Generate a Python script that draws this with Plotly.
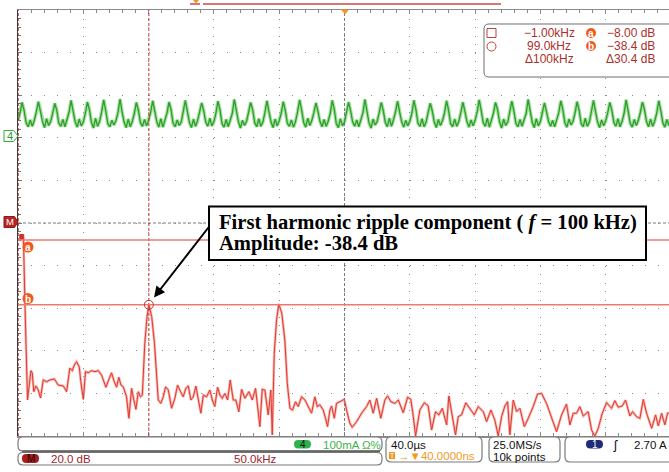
import numpy as np
import plotly.graph_objects as go

# ---------------- channel M : FFT of channel 4 ----------------
DB_PER_DIV = 20.0
KHZ_PER_DIV = 50.0
FREQ_START_KHZ = -1.2

FREQ_KHZ = [
    -1.0, 3.0, 4.2, 6.1, 8.7, 9.7, 10.9, 12.5, 14.3, 16.1, 18.1, 20.7, 23.2, 26.6, 29.6,
    33.5, 36.0, 38.5, 40.4, 41.9, 43.6, 45.7, 46.9, 48.8, 50.5, 52.6, 55.1, 57.7, 60.3,
    62.8, 66.1, 68.4, 70.4, 72.5, 74.3, 76.0, 77.6, 79.4, 81.9, 83.7, 85.8, 87.5, 89.1,
    90.9, 92.6, 94.0, 95.9, 97.6, 99.0, 101.2, 103.3, 106.2, 108.2, 110.0, 111.8, 113.9,
    116.4, 118.9, 121.0, 123.3, 125.3, 127.3, 129.2, 131.2, 133.0, 135.0, 136.8, 138.8,
    140.7, 143.2, 145.7, 147.6, 149.5, 151.6, 153.4, 155.2, 157.2, 159.3, 161.3, 163.6,
    165.6, 167.9, 170.0, 172.5, 175.6, 178.2, 180.7, 182.8, 184.0, 185.8, 187.8, 190.4,
    192.4, 193.5, 195.0, 196.8, 198.5, 200.8, 203.1, 205.0, 207.0, 209.0, 211.3, 213.4,
    215.9, 218.5, 221.1, 223.6, 226.1, 228.0, 229.9, 232.5, 234.3, 235.8, 237.6, 238.9,
    241.0, 242.7, 245.3, 248.6, 250.4, 252.9, 254.7, 258.0, 261.9, 265.7, 268.2, 270.8,
    273.4, 276.6, 279.7, 281.8, 284.3, 287.4, 290.0, 293.8, 297.1, 299.6, 301.5, 303.2,
    306.5, 309.9, 312.9, 315.5, 318.5, 321.1, 323.7, 327.0, 328.7, 331.3, 333.8, 335.9,
    338.4, 341.7, 345.6, 348.2, 351.2, 355.1, 357.6, 360.9, 363.9, 366.5, 369.1, 371.6,
    373.7, 375.4, 378.0, 380.6, 383.1, 386.5, 389.5, 393.3, 396.6, 399.7, 403.5, 407.3,
    411.2, 415.0, 418.8, 421.4, 424.0, 426.5, 429.0, 431.6, 435.4, 438.0, 440.5, 443.1,
    446.2, 449.5, 453.3, 455.8, 458.4, 461.5, 464.0, 467.3, 469.4, 472.4, 475.0, 477.6,
    480.1, 484.0, 487.0, 489.1, 491.6, 494.1, 496.2, 498.0,
]
LEVEL_DB = [
    -8.0, -7.6, -40.0, -83.1, -69.3, -70.4, -79.2, -76.5, -78.4, -82.2, -73.7, -74.5, -73.7, -73.2, -76.1,
    -76.5, -79.2, -68.1, -69.3, -66.7, -65.1, -67.5, -74.5, -82.8, -69.8, -70.3, -69.3, -69.8, -69.3,
    -71.4, -77.1, -73.7, -70.3, -74.5, -77.1, -72.4, -76.1, -76.9, -81.6, -91.7, -77.6, -83.1, -87.5,
    -79.2, -81.6, -80.8, -56.5, -44.0, -38.4, -44.0, -56.5, -83.1, -84.7, -81.6, -76.9, -78.4,
    -87.0, -82.3, -76.1, -79.2, -81.6, -77.6, -76.5, -83.1, -81.6, -76.5, -83.1, -89.3,
    -80.8, -81.6, -78.4, -83.1, -86.2, -77.1, -80.8, -82.3, -80.0, -83.1, -73.7, -83.1,
    -83.1, -88.6, -78.1, -82.3, -79.2, -83.1, -77.6, -87.8, -95.6, -78.1, -78.4, -90.1,
    -78.4, -99.5, -61.2, -45.5, -38.0, -42.4, -54.9, -75.3, -87.0, -87.8, -83.9, -86.2,
    -81.6, -83.1, -85.9, -89.3, -81.6, -86.2, -85.4, -87.8, -91.7, -95.6, -87.8, -85.9,
    -91.7, -84.7, -83.9, -82.8, -87.8, -94.0, -95.9, -93.3, -89.3, -86.2, -83.1, -89.3,
    -82.3, -91.7, -83.1, -81.2, -83.9, -84.7, -83.1, -89.1, -81.8, -82.8, -90.9, -100.0,
    -87.8, -84.4, -85.9, -97.2, -88.6, -90.1, -87.0, -94.8, -81.2, -90.1, -99.5, -90.9,
    -90.1, -84.4, -87.8, -90.1, -86.2, -88.6, -93.3, -87.8, -92.5, -100.0, -90.9, -85.9,
    -83.9, -99.5, -83.1, -88.6, -87.0, -95.6, -91.7, -86.2, -80.3, -80.0, -84.7, -91.7,
    -98.0, -90.1, -85.0, -94.8, -89.3, -89.3, -86.2, -90.6, -88.6, -97.2, -100.0, -96.4,
    -89.3, -84.4, -87.0, -83.4, -86.5, -85.9, -83.1, -90.6, -88.6, -90.9, -91.7, -82.8,
    -89.3, -96.4, -90.1, -95.3, -89.3, -94.8, -89.3, -89.1,
]

# ---------------- channel 4 : ripple current ----------------
MA_PER_DIV = 100.0
US_PER_DIV = 40.0
CH4_OFFSET_DIV = 2.04          # ground marker above screen centre
CH4_T0_US = -200.0
CH4_DT_US = 1.25
CH4_MA = [
    36, 54,
    79, 60, 31, 22, 38, 23, 36, 55,
    81, 58, 33, 20, 41, 25, 34, 53,
    77, 61, 30, 23, 39, 22, 37, 56,
    84, 59, 34, 21, 40, 24, 33, 54,
    80, 62, 32, 19, 42, 23, 35, 57,
    85, 60, 29, 22, 37, 26, 36, 55,
    87, 57, 33, 20, 40, 22, 34, 53,
    79, 61, 31, 23, 39, 24, 37, 56,
    83, 59, 34, 21, 41, 21, 35, 54,
    80, 62, 30, 22, 38, 25, 33, 55,
    84, 58, 32, 20, 40, 23, 36, 57,
    78, 60, 33, 23, 42, 24, 34, 54,
    82, 61, 29, 21, 39, 22, 37, 53,
    86, 59, 34, 19, 37, 25, 35, 56,
    79, 62, 31, 22, 41, 23, 33, 55,
    83, 57, 33, 20, 40, 24, 36, 54,
    81, 60, 30, 23, 38, 21, 34, 57,
    85, 61, 32, 21, 42, 25, 37, 55,
    78, 58, 34, 22, 39, 23, 35, 53,
    84, 62, 29, 20, 41, 24, 33, 56,
    80, 59, 33, 23, 38, 22, 36, 54,
    86, 61, 31, 19, 40, 26, 34, 55,
    79, 60, 32, 22, 42, 23, 37, 57,
    82, 57, 34, 21, 37, 24, 35, 53,
    84, 62, 30, 23, 41, 22, 33, 56,
    77, 59, 33, 20, 39, 25, 36, 54,
    83, 61, 29, 22, 40, 23, 34, 55,
    80, 58, 34, 21, 38, 24, 37, 57,
    85, 60, 31, 23, 42, 21, 35, 54,
    79, 62, 33, 19, 40, 25, 33, 55,
    82, 59, 30, 22, 39, 23, 36, 53,
    86, 61, 32, 20, 41, 24, 34, 56,
    78, 57, 34, 23, 37, 22, 37, 55,
    83, 62, 31, 21, 40, 26, 35, 54,
    81, 60, 29, 22, 42, 23, 33, 57,
    84, 58, 33, 20, 38, 24, 36, 55,
    79, 61, 32, 23, 41, 22, 34, 53,
    85, 59, 30, 21, 39, 25, 37, 56,
    80, 62, 34, 22, 40, 23, 35, 54,
    83, 60, 31, 21, 39, 24,
]

# ---------------- cursors ----------------
CURSOR_NAMES = ["a", "b"]
CURSOR_FREQ_KHZ = [-1.0, 99.0]
CURSOR_DB = [-8.0, -38.4]

# ---------------- acquisition settings ----------------
SAMPLE_RATE = "25.0MS/s"
RECORD_LEN = "10k points"
TRIG_DELAY = "40.0000ns"
TRIG_LEVEL = "2.70 A"

# ---------------- screen geometry ----------------
W, H = 669, 472
ML, MT, MB = 18, 10, 36
PW, PH = W - ML, H - MT - MB
DIV_X_PX, DIV_Y_PX = 65.3, 42.6
NX = PW / DIV_X_PX                  # visible horizontal divisions
NY = 10


def px(x):
    return (x - ML) / PW


def py(y):
    return (H - MB - y) / PH


def rrect(x0, y0, x1, y1, r):
    pts = [("M", x0 + r, y0), ("L", x1 - r, y0), ("Q", x1, y0, x1, y0 + r),
           ("L", x1, y1 - r), ("Q", x1, y1, x1 - r, y1), ("L", x0 + r, y1),
           ("Q", x0, y1, x0, y1 - r), ("L", x0, y0 + r), ("Q", x0, y0, x0 + r, y0)]
    out = []
    for p in pts:
        cmd, vals = p[0], p[1:]
        coords = []
        for i in range(0, len(vals), 2):
            coords.append(f"{px(vals[i]):.5f},{py(vals[i + 1]):.5f}")
        out.append(cmd + " ".join(coords))
    return " ".join(out) + " Z"


def poly(points):
    return "M" + " L".join(f"{px(a):.5f},{py(b):.5f}" for a, b in points) + " Z"


def sig3(v):
    s = f"{v:#.3g}".rstrip(".")
    return s.replace("-", "\u2212")


fig = go.Figure()

# channel 4 time trace
t_us = CH4_T0_US + CH4_DT_US * np.arange(len(CH4_MA))
fig.add_trace(go.Scatter(x=t_us, y=CH4_MA, xaxis="x3", yaxis="y3", mode="lines",
                         line=dict(color="#a6dfa0", width=3.6), hoverinfo="skip"))
fig.add_trace(go.Scatter(x=t_us, y=CH4_MA, xaxis="x3", yaxis="y3", mode="lines",
                         line=dict(color="#2a9f2a", width=1.3), hoverinfo="skip"))

# FFT trace
fig.add_trace(go.Scatter(x=FREQ_KHZ, y=LEVEL_DB, xaxis="x2", yaxis="y2", mode="lines",
                         line=dict(color="#f6b4ac", width=2.6), hoverinfo="skip"))
fig.add_trace(go.Scatter(x=FREQ_KHZ, y=LEVEL_DB, xaxis="x2", yaxis="y2", mode="lines",
                         line=dict(color="#e23a33", width=1.0), hoverinfo="skip"))

GRID = "#8c8c8c"
hidden = dict(visible=False, showgrid=False, zeroline=False)

fig.update_layout(
    width=W, height=H,
    margin=dict(l=ML, r=0, t=MT, b=MB, pad=0),
    paper_bgcolor="white", plot_bgcolor="white",
    showlegend=False, hovermode=False,
    xaxis=dict(range=[0, NX], dtick=1, tick0=0, showgrid=True, gridcolor=GRID, gridwidth=1,
               griddash="1px,7.52px", zeroline=False, showticklabels=False,
               showline=True, linecolor="#8a8a8a", linewidth=1.5, mirror="ticks",
               ticks="inside", ticklen=4, tickcolor="#8a8a8a",
               minor=dict(dtick=0.2, ticks="inside", ticklen=3, tickcolor="#8a8a8a", showgrid=False)),
    yaxis=dict(range=[-NY / 2, NY / 2], dtick=1, tick0=0, showgrid=True, gridcolor=GRID, gridwidth=1,
               griddash="1px,12.06px", zeroline=False, showticklabels=False,
               showline=True, linecolor="#3a3a3a", linewidth=1.5, mirror=False,
               ticks="inside", ticklen=4, tickcolor="#777",
               minor=dict(dtick=0.2, ticks="inside", ticklen=3, tickcolor="#777", showgrid=False)),
    # centre-line tick rulers
    xaxis4=dict(overlaying="x", anchor="free", position=0.5 + 3 / PH, range=[0, NX],
                dtick=0.2, tick0=0, ticks="outside", ticklen=6, tickcolor="#666",
                showline=False, showgrid=False, zeroline=False, showticklabels=False),
    yaxis4=dict(overlaying="y", anchor="free", position=(5 * DIV_X_PX + 3) / PW,
                range=[-NY / 2, NY / 2], dtick=0.2, tick0=0, ticks="outside", ticklen=6,
                tickcolor="#666", showline=False, showgrid=False, zeroline=False,
                showticklabels=False),
    # FFT scales
    xaxis2=dict(overlaying="x", range=[FREQ_START_KHZ, FREQ_START_KHZ + NX * KHZ_PER_DIV], **hidden),
    yaxis2=dict(overlaying="y", range=[-NY / 2 * DB_PER_DIV, NY / 2 * DB_PER_DIV], **hidden),
    # time-domain scales
    xaxis3=dict(overlaying="x", range=[-5 * US_PER_DIV, -5 * US_PER_DIV + NX * US_PER_DIV], **hidden),
    yaxis3=dict(overlaying="y", range=[(-5 - CH4_OFFSET_DIV) * MA_PER_DIV,
                                       (5 - CH4_OFFSET_DIV) * MA_PER_DIV], **hidden),
)

shapes = []
ann = []


def label(x, y, text, color="#111", size=11.5, anchor="left", family="Liberation Sans, Arial"):
    ann.append(dict(xref="paper", yref="paper", x=px(x), y=py(y), text=text, showarrow=False,
                    font=dict(family=family, size=size, color=color),
                    xanchor=anchor, yanchor="middle"))


# centre cross lines
shapes.append(dict(type="line", xref="x", yref="y", x0=0, x1=NX, y0=0, y1=0,
                   line=dict(color="#7a7a7a", width=1, dash="3px,2px")))
shapes.append(dict(type="line", xref="x", yref="y", x0=5, x1=5, y0=-NY / 2, y1=NY / 2,
                   line=dict(color="#7a7a7a", width=1, dash="3px,2px")))

# cursors
CUR_RED = "#c7332f"
for f in CURSOR_FREQ_KHZ:
    shapes.append(dict(type="line", xref="x2", yref="paper", x0=f, x1=f, y0=0, y1=1,
                       line=dict(color=CUR_RED, width=1, dash="3px,2px")))
for d in CURSOR_DB:
    shapes.append(dict(type="line", xref="paper", yref="y2", x0=0, x1=1, y0=d, y1=d,
                       line=dict(color="#eb7a74", width=1.5)))
shapes.append(dict(type="rect", xref="x2", yref="y2", xsizemode="pixel", ysizemode="pixel",
                   xanchor=CURSOR_FREQ_KHZ[0], yanchor=CURSOR_DB[0], x0=1.5, x1=5.5, y0=1.5, y1=5.5,
                   fillcolor=CUR_RED, line=dict(color=CUR_RED, width=1)))
shapes.append(dict(type="circle", xref="x2", yref="y2", xsizemode="pixel", ysizemode="pixel",
                   xanchor=CURSOR_FREQ_KHZ[1], yanchor=CURSOR_DB[1], x0=-4.5, x1=4.5, y0=-4.5, y1=4.5,
                   line=dict(color=CUR_RED, width=1)))

ORANGE = "#f05a1e"
for name, (cx, cy) in zip(CURSOR_NAMES, [(28, 247), (28, 298.5)]):
    shapes.append(dict(type="circle", xref="paper", yref="paper", x0=px(cx - 5.5), x1=px(cx + 5.5),
                       y0=py(cy + 5.5), y1=py(cy - 5.5), fillcolor=ORANGE, line=dict(width=0)))
    label(cx, cy + 0.5, f"<b>{name}</b>", "white", 10, "center")

# channel tags on the left
shapes.append(dict(type="path", xref="paper", yref="paper",
                   path=poly([(4, 130.5), (13.5, 130.5), (18, 136), (13.5, 141.5), (4, 141.5)]),
                   fillcolor="white", line=dict(color="#3aa63a", width=1)))
label(10, 136, "4", "#2f9a2f", 11, "center")
shapes.append(dict(type="path", xref="paper", yref="paper",
                   path=poly([(4, 216.5), (14.5, 216.5), (18, 222), (14.5, 227.5), (4, 227.5)]),
                   fillcolor="#b82525", line=dict(color="#8a1a1a", width=1)))
label(10, 222, "M", "white", 9.5, "center")

# record bar and trigger markers at the top
shapes.append(dict(type="line", xref="paper", yref="paper", x0=px(190), x1=px(200), y0=py(4), y1=py(4),
                   line=dict(color="#c84848", width=1.5)))
shapes.append(dict(type="line", xref="paper", yref="paper", x0=px(203), x1=px(501), y0=py(4), y1=py(4),
                   line=dict(color="#c84848", width=1.5)))
shapes.append(dict(type="path", xref="paper", yref="paper", path=poly([(193, 0), (199, 0), (196, 3.5)]),
                   fillcolor="#f7941d", line=dict(width=0)))
shapes.append(dict(type="path", xref="paper", yref="paper", path=poly([(341, 9.5), (349, 9.5), (345, 14.5)]),
                   fillcolor="#f7941d", line=dict(width=0)))

# cursor readout panel
TXT_RED = "#aa302c"
shapes.append(dict(type="path", xref="paper", yref="paper", path=rrect(484, 24, 680, 77, 5),
                   fillcolor="white", line=dict(color="#6e6e6e", width=1)))
shapes.append(dict(type="rect", xref="paper", yref="paper", x0=px(487), x1=px(496), y0=py(37.5), y1=py(28.5),
                   line=dict(color="#b8423d", width=1)))
shapes.append(dict(type="circle", xref="paper", yref="paper", x0=px(487), x1=px(496), y0=py(51), y1=py(42),
                   line=dict(color="#b8423d", width=1)))
for name, cy in zip(CURSOR_NAMES, [33, 46]):
    shapes.append(dict(type="circle", xref="paper", yref="paper", x0=px(586), x1=px(596),
                       y0=py(cy + 5), y1=py(cy - 5), fillcolor=ORANGE, line=dict(width=0)))
    label(591, cy + 0.5, f"<b>{name}</b>", "white", 10, "center")

d_f = CURSOR_FREQ_KHZ[1] - CURSOR_FREQ_KHZ[0]
d_db = CURSOR_DB[0] - CURSOR_DB[1]
col1 = [sig3(CURSOR_FREQ_KHZ[0]) + "kHz", sig3(CURSOR_FREQ_KHZ[1]) + "kHz", "\u0394" + sig3(d_f) + "kHz"]
col2 = [sig3(CURSOR_DB[0]) + " dB", sig3(CURSOR_DB[1]) + " dB", "\u0394" + sig3(d_db) + " dB"]
for txt1, txt2, cy in zip(col1, col2, [33, 46, 58.5]):
    label(549, cy, txt1, TXT_RED, 12, "center")
    label(657, cy, txt2, TXT_RED, 12, "right")

# status bar
BOX = "#7a7a7a"
for x0, y0, x1, y1 in [(18, 437, 382, 451), (18, 452.5, 382, 465), (386, 437, 482, 462),
                       (489, 437, 560, 462), (565, 437, 690, 462)]:
    shapes.append(dict(type="path", xref="paper", yref="paper", path=rrect(x0, y0, x1, y1, 5),
                       fillcolor="white", line=dict(color=BOX, width=1.2)))
shapes.append(dict(type="line", xref="paper", yref="paper", x0=px(22), x1=px(380), y0=py(451.2), y1=py(451.2),
                   line=dict(color="#666", width=2)))
for (x0, y0, x1, y1), fill in [((294, 440, 311, 448.5), "#2eb34a"), ((22, 454, 39, 463), "#a81c1c"),
                               ((586, 440, 603, 448.5), "#20297a")]:
    shapes.append(dict(type="path", xref="paper", yref="paper", path=rrect(x0, y0, x1, y1, 4.2),
                       fillcolor=fill, line=dict(width=0)))
shapes.append(dict(type="rect", xref="paper", yref="paper", x0=px(389), x1=px(395), y0=py(459), y1=py(452),
                   fillcolor="#f7941d", line=dict(width=0)))

label(302.5, 444.5, "4", "#111", 10, "center")
label(321, 444.5, f"{MA_PER_DIV:.0f}mA \u03a9%", "#3cb44b")
label(30.5, 458.5, "M", "#1a0a0a", 10, "center")
label(49, 459, f"{DB_PER_DIV:.1f} dB", "#a0262a")
label(232, 459, f"{KHZ_PER_DIV:.1f}kHz", "#a0262a")
label(389, 444.5, f"{US_PER_DIV:.1f}\u00b5s")
label(392, 455.5, "T", "white", 7, "center")
label(395.5, 456, "\u2192\u25bc" + TRIG_DELAY, "#f39a1e")
label(491, 444.5, SAMPLE_RATE)
label(491, 456.5, RECORD_LEN)
label(594.5, 444.5, "1", "white", 10, "center")
label(615, 444.5, "\u0283", "#111", 13, "center")
label(632, 444.5, TRIG_LEVEL)

# callout
shapes.append(dict(type="rect", xref="paper", yref="paper", x0=px(209), x1=px(646), y0=py(260), y1=py(206.5),
                   fillcolor="white", line=dict(color="black", width=2)))
SERIF = "Liberation Serif, Times New Roman, serif"
label(216.5, 222.5, f"<b>First harmonic ripple component ( <i>f</i> = {d_f:.0f} kHz)</b>",
      "black", 20.6, "left", SERIF)
label(216.5, 244, f"<b>Amplitude: {CURSOR_DB[1]:.1f} dB</b>", "black", 20.6, "left", SERIF)
ann.append(dict(x=px(154), y=py(297.5), ax=56, ay=-72, text="", showarrow=True,
                arrowhead=2, arrowsize=1.1, arrowwidth=2, arrowcolor="black", standoff=0,
                xref="paper", yref="paper"))

for s in shapes:
    s.setdefault("layer", "above")
fig.update_layout(shapes=shapes, annotations=ann)

fig.write_html("out.html", include_plotlyjs=True, config={"displayModeBar": False, "staticPlot": True})
